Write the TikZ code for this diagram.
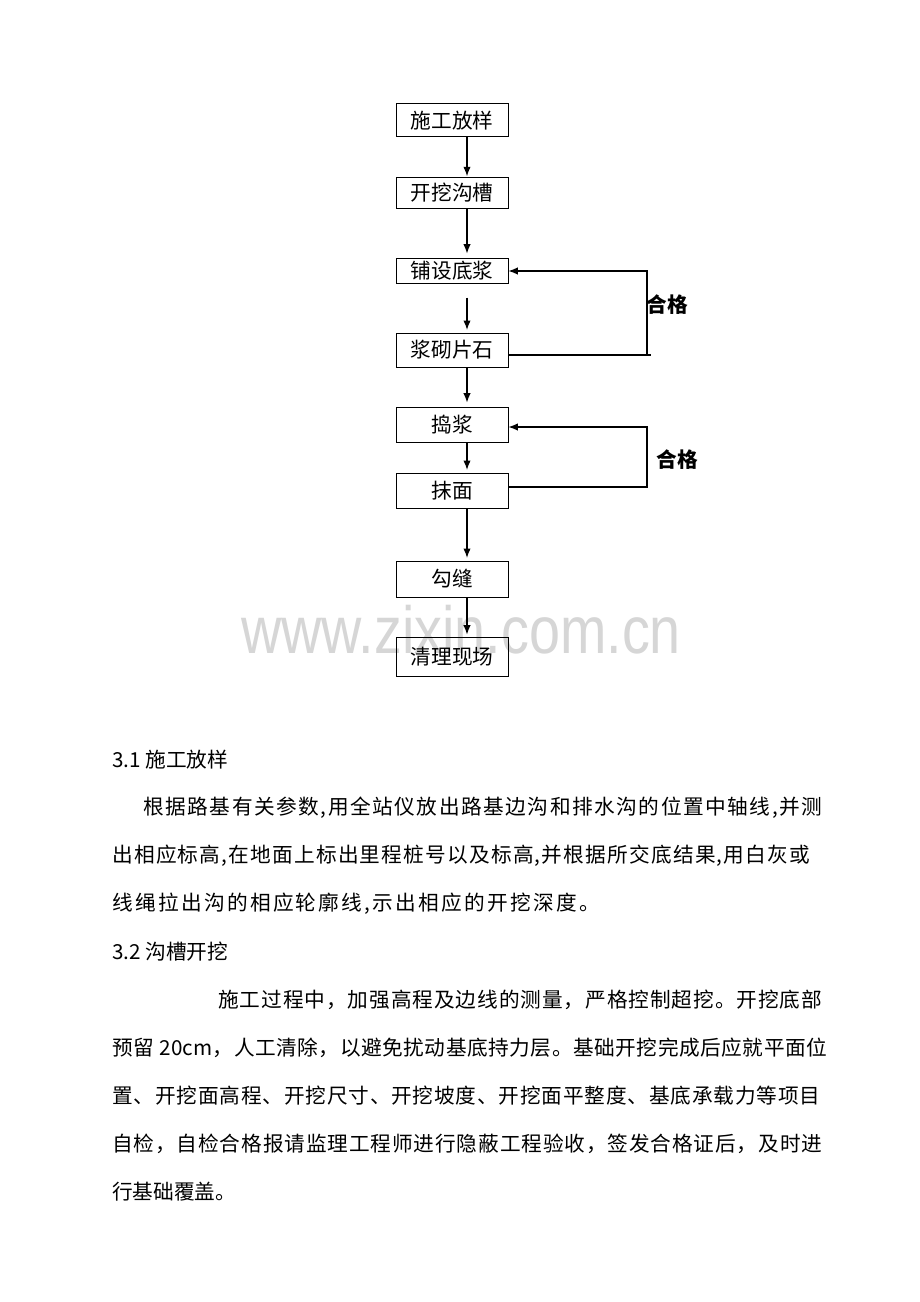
\documentclass[tikz,border=0pt]{standalone}
\usepackage{fontspec}
\newfontfamily\cjk{Noto Sans CJK SC}
\newfontfamily\wmfont{Liberation Sans}
\usetikzlibrary{arrows.meta}
\makeatletter
\def\spr#1{\spr@a#1\relax}
\def\spr@a#1{#1\futurelet\spr@next\spr@b}
\def\spr@b{\ifx\spr@next\relax\expandafter\@gobble\else\hskip0pt plus 1fil\relax\expandafter\spr@a\fi}
\makeatother
\newcommand\fitline[2]{\makebox[#1][s]{\spr{#2}}}
\tikzset{
  stepbox/.style={draw, line width=0.75pt, minimum width=84pt, inner sep=0pt,
    font=\cjk\fontsize{15.5pt}{18pt}\selectfont},
  txt/.style={inner sep=0pt, anchor=west, font=\cjk\fontsize{15.5pt}{18pt}\selectfont},
  lbl/.style={inner sep=0pt, font=\cjk\bfseries\fontsize{15.5pt}{18pt}\selectfont},
  conn/.style={line width=0.8pt},
  arr/.style={line width=0.8pt, -{Latex[length=7pt,width=5.5pt]}},
}
\begin{document}
\begin{tikzpicture}[x=0.75pt,y=-0.75pt]
\useasboundingbox (0,0) rectangle (920,1302);
\fill[white] (0,0) rectangle (920,1302);
% watermark
\node[inner sep=0pt, text=black!16, font=\wmfont\fontsize{50pt}{56pt}\selectfont, xscale=0.836] (wm) at (461,630) {www.zixin.com.cn};
% flow boxes
\node[stepbox, minimum height=24.75pt] (b1) at (452,120.5) {施工放样};
\node[stepbox, minimum height=22.5pt]  (b2) at (452,193) {开挖沟槽};
\node[stepbox, minimum height=18.75pt] (b3) at (452,270.5) {铺设底浆};
\node[stepbox, minimum height=25.5pt]  (b4) at (452,350) {浆砌片石};
\node[stepbox, minimum height=26.25pt] (b5) at (452,424.5) {捣浆};
\node[stepbox, minimum height=26.25pt] (b6) at (452,490.5) {抹面};
\node[stepbox, minimum height=27pt]    (b7) at (452,579) {勾缝};
\node[stepbox, minimum height=29.25pt] (b8) at (452,656.5) {清理现场};
\coordinate (ax) at (467,0);
\draw[arr, shorten >=1pt] (b1.south -| ax) -- (b2.north -| ax);
\draw[arr, shorten >=3pt] (b2.south -| ax) -- (b3.north -| ax);
\draw[arr, shorten <=10.5pt, shorten >=2pt] (b3.south -| ax) -- (b4.north -| ax);
\draw[arr, shorten >=3pt] (b4.south -| ax) -- (b5.north -| ax);
\draw[arr, shorten >=2pt] (b5.south -| ax) -- (b6.north -| ax);
\draw[arr, shorten >=2pt] (b6.south -| ax) -- (b7.north -| ax);
\draw[arr, shorten >=1.5pt] (b7.south -| ax) -- (b8.north -| ax);
% loop 1
\coordinate (c1bot) at (647,355);
\coordinate (c1ext) at (651,355);
\coordinate (c1top) at (647,271);
\draw[conn] (b4.east |- c1bot) -- (c1ext);
\draw[arr] (c1bot) -- (c1top) -- (b3.east |- c1top);
\node[lbl] (l1) at (667,305) {合格};
% loop 2
\coordinate (c2bot) at (647,487);
\coordinate (c2top) at (647,427);
\draw[arr] (b6.east |- c2bot) -- (c2bot) -- (c2top) -- (b5.east |- c2top);
\node[lbl] (l2) at (677,460) {合格};
% text
\node[txt] (h31) at (112,760) {3.1 施工放样};
\node[txt] (p11) at (143,808) {\fitline{509.25pt}{根据路基有关参数,用全站仪放出路基边沟和排水沟的位置中轴线,并测}};
\node[txt] (p12) at (112,856) {\fitline{523.5pt}{出相应标高,在地面上标出里程桩号以及标高,并根据所交底结果,用白灰或}};
\node[txt] (p13) at (112,904) {\fitline{366pt}{线绳拉出沟的相应轮廓线,示出相应的开挖深度。}};
\node[txt] (h32) at (112,952) {3.2 沟槽开挖};
\node[txt] (p21) at (218,1000) {\fitline{453pt}{施工过程中，加强高程及边线的测量，严格控制超挖。开挖底部}};
\node[txt] (p22) at (112,1048) {\fitline{536.25pt}{预留~{20cm}，人工清除，以避免扰动基底持力层。基础开挖完成后应就平面位}};
\node[txt] (p23) at (112,1096) {\fitline{531pt}{置、开挖面高程、开挖尺寸、开挖坡度、开挖面平整度、基底承载力等项目}};
\node[txt] (p24) at (112,1144) {\fitline{532.5pt}{自检，自检合格报请监理工程师进行隐蔽工程验收，签发合格证后，及时进}};
\node[txt] (p25) at (112,1192) {行基础覆盖。};
\end{tikzpicture}
\end{document}
